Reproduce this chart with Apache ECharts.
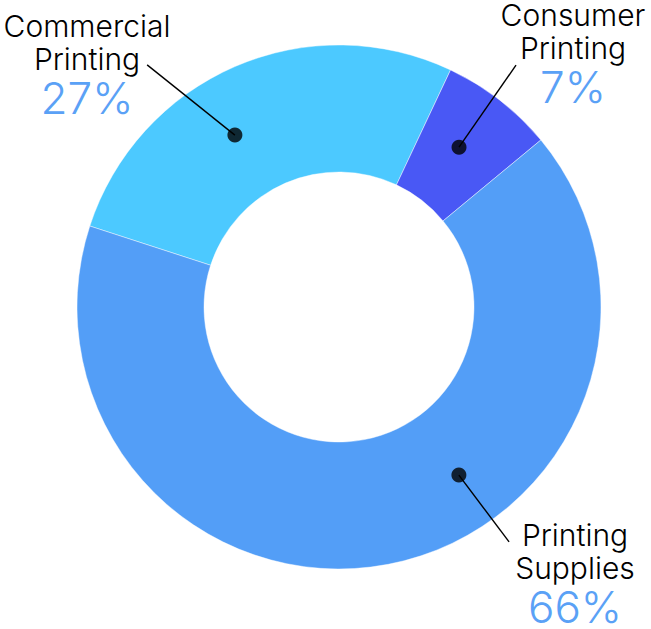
<!DOCTYPE html>
<html>
<head>
<meta charset="utf-8">
<script src="https://cdn.jsdelivr.net/npm/echarts@6/dist/echarts.min.js"></script>
<style>
  html, body { margin: 0; padding: 0; background: #ffffff; }
  #chart { width: 651px; height: 629px; }
</style>
</head>
<body>
<div id="chart"></div>
<script>
// Revenue share by segment
const categories = ['Commercial Printing', 'Consumer Printing', 'Printing Supplies'];
const shares = [27, 7, 66];
const colors = ['#4CC9FF', '#4958F5', '#539EF7'];

// Layout: ring geometry and label placement
const CENTER = [339, 307];
const R_INNER = 135;
const R_OUTER = 262;
const POLAR_SCALE = 1.3; // polar extent relative to the outer ring radius
// leader line: [radius fraction, compass angle] for the dot and the line end
const leaderAnchors = [
  { dot: [0.767, 328.8], end: [1.179, 321.6] },
  { dot: [0.763, 36.9], end: [1.144, 36.2] },
  { dot: [0.788, 144.5], end: [1.107, 144.1] }
];
// label block: centre x and top y
const labelBoxes = [
  { x: 87, y: 9 },
  { x: 573, y: -2 },
  { x: 575, y: 518 }
];

const chart = echarts.init(document.getElementById('chart'), null, { renderer: 'svg' });

const leaderSeries = leaderAnchors.map(a => ({
  type: 'line',
  coordinateSystem: 'polar',
  data: [a.dot, a.end],
  symbol: 'none',
  silent: true,
  clip: false,
  z: 5,
  lineStyle: { color: '#000', width: 1.4 }
}));

chart.setOption({
  animation: false,
  backgroundColor: '#ffffff',
  polar: { center: CENTER, radius: R_OUTER * POLAR_SCALE },
  angleAxis: {
    type: 'value', min: 0, max: 360, startAngle: 90, clockwise: true,
    show: false
  },
  radiusAxis: { type: 'value', min: 0, max: POLAR_SCALE, show: false },
  series: [
    {
      type: 'pie',
      center: CENTER,
      radius: [R_INNER, R_OUTER],
      startAngle: 162.0,
      clockwise: true,
      silent: true,
      z: 1,
      itemStyle: { borderColor: 'rgba(255,255,255,0.55)', borderWidth: 0.8 },
      data: categories.map((name, i) => ({
        name,
        value: shares[i],
        itemStyle: { color: colors[i] }
      })),
      label: {
        show: true,
        position: 'outside',
        overflow: 'none',
        fontFamily: 'Inter',
        align: 'center',
        formatter: p => '{name|' + p.name.replace(' ', '\n') + '}\n{pct|' + p.value + '%}',
        rich: {
          name: { fontSize: 30, lineHeight: 33, color: '#000000', fontFamily: 'Inter', fontWeight: 300, align: 'center' },
          pct: { fontSize: 44, lineHeight: 46, color: '#5AA1F6', fontFamily: 'Inter', fontWeight: 300, align: 'center' }
        }
      },
      labelLine: { show: false },
      labelLayout: params => {
        const b = labelBoxes[params.dataIndex];
        return { x: b.x, y: b.y, align: 'center', verticalAlign: 'top' };
      }
    },
    ...leaderSeries,
    {
      type: 'scatter',
      coordinateSystem: 'polar',
      data: leaderAnchors.map(a => a.dot),
      symbol: 'circle',
      symbolSize: 15,
      silent: true,
      z: 6,
      itemStyle: { color: '#000000' }
    }
  ]
});
</script>
</body>
</html>
